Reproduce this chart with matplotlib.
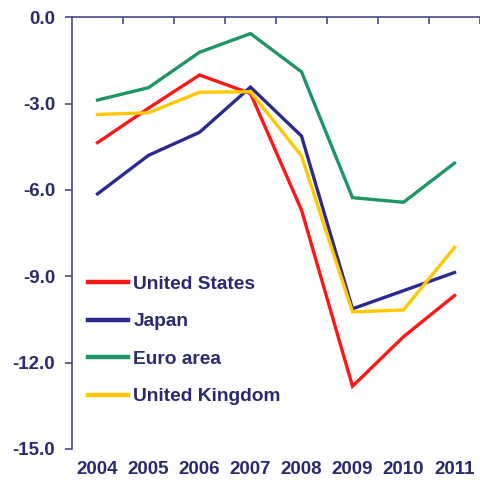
import matplotlib
matplotlib.use("Agg")
import matplotlib.pyplot as plt
from matplotlib.lines import Line2D

years = ["2004", "2005", "2006", "2007", "2008", "2009", "2010", "2011"]
united_states = [-4.36, -3.16, -2.01, -2.65, -6.7, -12.82, -11.1, -9.67]
japan = [-6.14, -4.8, -4.0, -2.43, -4.13, -10.13, -9.5, -8.87]
euro_area = [-2.88, -2.45, -1.22, -0.57, -1.9, -6.27, -6.43, -5.07]
united_kingdom = [-3.38, -3.32, -2.61, -2.59, -4.82, -10.24, -10.17, -8.0]
series_names = ["United States", "Japan", "Euro area", "United Kingdom"]
yticks = [0.0, -3.0, -6.0, -9.0, -12.0, -15.0]

colors = ["#ff1616", "#2b2b8f", "#1f9465", "#ffc800"]
navy = "#2a2a6e"

plt.rcParams['font.family'] = ['Liberation Sans', 'DejaVu Sans']
plt.rcParams['font.weight'] = 'bold'

fig = plt.figure(figsize=(4.8, 4.9), dpi=100)
ax = fig.add_axes([0.15, 0.0837, 0.85, 0.8813])

x = list(range(len(years)))
handles = []
for vals, name, c in zip([united_states, japan, euro_area, united_kingdom], series_names, colors):
    h, = ax.plot(x, vals, color=c, lw=2.4, solid_joinstyle='miter', label=name)
    handles.append(h)

ax.set_xlim(-0.5, len(years) - 0.5)
ax.set_ylim(-15, 0)
ax.set_yticks(yticks)
ax.set_yticklabels([f"{v:.1f}" for v in yticks], color=navy, fontsize=13.5, fontweight='bold')
ax.set_xticks(x)
ax.set_xticklabels(years, color=navy, fontsize=13.5, fontweight='bold')
ax.set_xticks([i + 0.5 for i in range(len(years))], minor=True)

for s in ['bottom', 'right']:
    ax.spines[s].set_visible(False)
for s in ['left', 'top']:
    ax.spines[s].set_color('#4a4a8a')
    ax.spines[s].set_linewidth(1.2)

ax.tick_params(axis='x', which='major', length=0, pad=9)
ax.tick_params(axis='x', which='minor', top=True, bottom=False, direction='in', length=5,
               color='#4a4a8a', width=1.2)
ax.tick_params(axis='y', which='major', direction='out', length=5, pad=7, color='#4a4a8a', width=1.2)

leg = ax.legend(handles=handles, loc='upper left', bbox_to_anchor=(0.039, 0.402), frameon=False,
                prop={'weight': 'bold', 'size': 13.8}, handlelength=2.1, handletextpad=0.27,
                labelspacing=1.05, borderaxespad=0, borderpad=0)
for t in leg.get_texts():
    t.set_color(navy)
for l in leg.get_lines():
    l.set_linewidth(3.2)

fig.savefig("out.png", dpi=100)
